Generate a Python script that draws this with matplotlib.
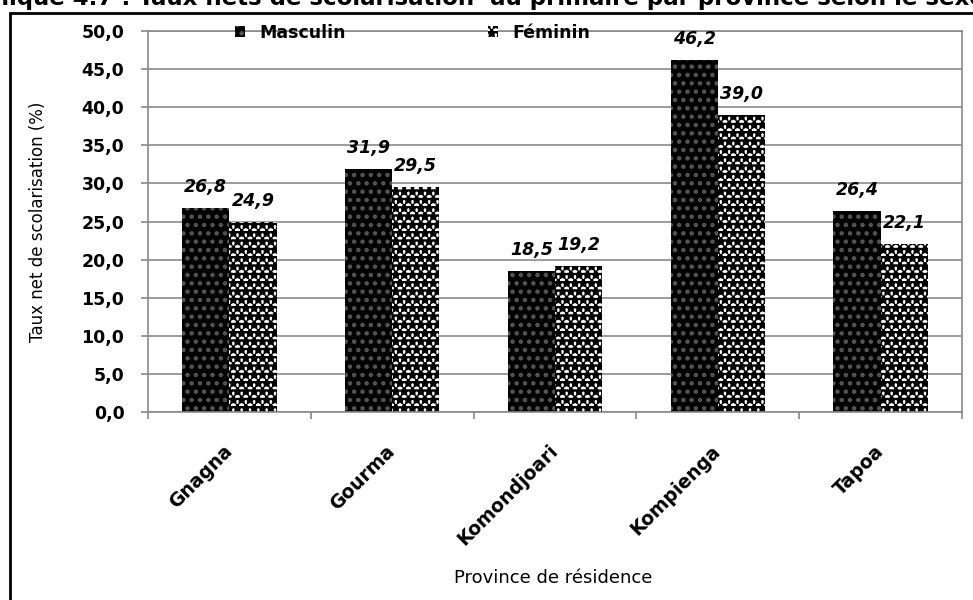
import numpy as np
import matplotlib.pyplot as plt
from matplotlib.patches import Rectangle, Patch

# donnees du graphique
provinces = ['Gnagna', 'Gourma', 'Komondjoari', 'Kompienga', 'Tapoa']
masculin = [26.8, 31.9, 18.5, 46.2, 26.4]
feminin = [24.9, 29.5, 19.2, 39.0, 22.1]
yticks = np.arange(0, 55, 5)
titre = 'Graphique 4.7 : Taux nets de scolarisation  au primaire par province selon le sexe'

def fr(v):
    return f'{v:.1f}'.replace('.', ',')

gris = '#8a8a8a'
plt.rcParams['hatch.linewidth'] = 2.0

fig = plt.figure(figsize=(9.73, 6), dpi=100)
ax = fig.add_axes([148/973, 1-412/600, (962-148)/973, (412-31)/600])

x = np.arange(len(provinces))
w = 0.29
style_m = dict(facecolor='black', edgecolor='#555555', hatch='..', linewidth=0)
style_f = dict(facecolor='white', edgecolor='black', hatch='**', linewidth=0)
b1 = ax.bar(x - w/2, masculin, w, **style_m)
b2 = ax.bar(x + w/2, feminin, w, **style_f)

for bars, vals in [(b1, masculin), (b2, feminin)]:
    for r, v in zip(bars, vals):
        ax.annotate(fr(v), (r.get_x() + r.get_width()/2, v), xytext=(0, 11.5),
                    textcoords='offset points', ha='center', va='baseline',
                    fontsize=12.5, fontweight='bold', style='italic')

ax.set_xlim(-0.5, 4.5)
ax.set_ylim(0, 50)
ax.set_yticks(yticks)
ax.set_yticklabels([fr(v) for v in yticks], fontweight='bold')
ax.set_xticks(x)
ax.set_xticklabels(provinces, rotation=45, ha='right', va='center',
                   rotation_mode='anchor', fontweight='bold', fontsize=13.5)
ax.set_xticks(np.arange(-0.5, 5, 1), minor=True)
ax.tick_params(axis='x', which='major', length=0, pad=26)
ax.tick_params(axis='x', which='minor', length=5, color=gris, width=1.2)
ax.tick_params(axis='y', length=5, color=gris, width=1.2, labelsize=12.5, pad=12)

ax.yaxis.grid(True, color=gris, linewidth=1.2)
ax.set_axisbelow(True)
for s in ax.spines.values():
    s.set_color(gris)
    s.set_linewidth(1.2)

ax.set_ylabel('Taux net de scolarisation (%)', fontsize=12)
ax.yaxis.set_label_coords(-0.124, 0.5)
ax.set_xlabel('Province de résidence', fontsize=13)
ax.xaxis.set_label_coords(0.4975, -0.436)
ax.xaxis.label.set_va('center')

handles = [Patch(**style_m), Patch(**style_f)]
ax.legend(handles, ['Masculin', 'Féminin'], ncol=2, frameon=False, loc='center',
          bbox_to_anchor=(0.325, 0.995), prop={'weight': 'bold', 'size': 12.5},
          handlelength=0.6, handleheight=0.6, handletextpad=0.8, columnspacing=8.2)

# cadre et titre coupes
fig.patches.append(Rectangle((9.5/973, -0.05), 1.2, 1 - 12.7/600 + 0.05,
                             transform=fig.transFigure, fill=False,
                             edgecolor='black', linewidth=2))
fig.text(985/973, 1 - 5/600, titre, ha='right', va='baseline', fontsize=16.5,
         fontweight='bold')

plt.savefig('out.png', dpi=100)
